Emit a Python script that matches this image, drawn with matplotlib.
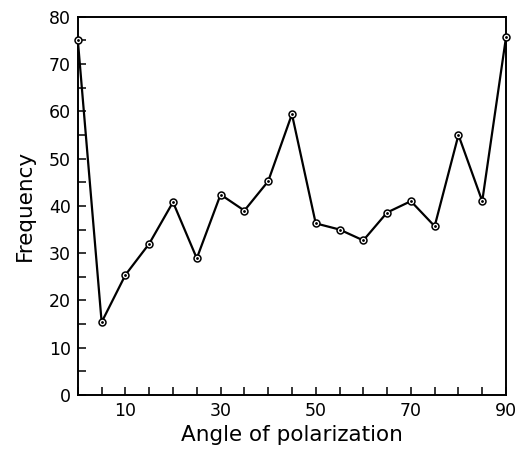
import matplotlib.pyplot as plt
from matplotlib.ticker import MultipleLocator

angle = [0, 5, 10, 15, 20, 25, 30, 35, 40, 45, 50, 55, 60, 65, 70, 75, 80, 85, 90]
frequency = [75, 15.4, 25.4, 32, 40.8, 28.9, 42.4, 39, 45.2, 59.4, 36.3, 35, 32.7,
             38.6, 41, 35.7, 55, 41, 75.7]
x_ticks = [10, 30, 50, 70, 90]
y_ticks = [0, 10, 20, 30, 40, 50, 60, 70, 80]

fig = plt.figure(figsize=(5.19, 4.54), dpi=100)
ax = fig.add_axes([0.150, 0.130, 0.825, 0.833])

ax.plot(angle, frequency, color='black', lw=1.6, marker='o', ms=5,
        mfc='white', mec='black', mew=1.1, zorder=3, clip_on=False)
ax.plot(angle, frequency, ls='none', marker='.', ms=2, color='black', zorder=4, clip_on=False)

ax.set_xlim(0, 90)
ax.set_ylim(0, 80)
ax.set_xticks(x_ticks)
ax.set_yticks(y_ticks)
ax.xaxis.set_minor_locator(MultipleLocator(5))
ax.yaxis.set_minor_locator(MultipleLocator(5))
ax.tick_params(which='both', direction='in', length=6, width=1.1, labelsize=12.5,
               top=False, right=False, pad=5)
for s in ax.spines.values():
    s.set_linewidth(1.4)

ax.set_xlabel('Angle of polarization', fontsize=15.5, labelpad=4)
ax.set_ylabel('Frequency', fontsize=15.5, labelpad=10)

fig.savefig('out.png', dpi=100)
